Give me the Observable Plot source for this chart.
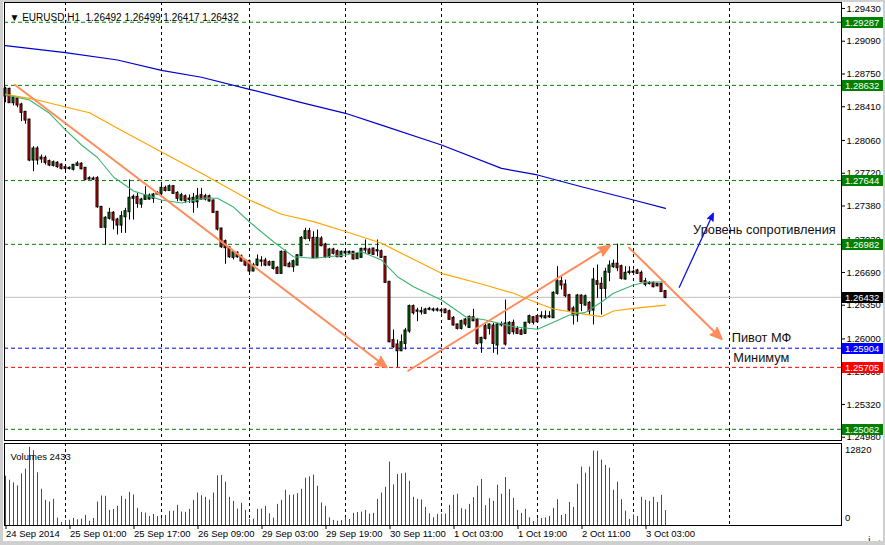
<!DOCTYPE html>
<html><head><meta charset="utf-8">
<script src="https://cdn.jsdelivr.net/npm/d3@7"></script>
<script src="https://cdn.jsdelivr.net/npm/@observablehq/plot@0.6"></script>
<style>
html,body{margin:0;padding:0;background:#fff;}
#chart{position:relative;width:885px;height:545px;overflow:hidden;background:#fff;font-family:"Liberation Sans",Arial,sans-serif;}
#chart svg{position:absolute;left:0;display:block;}
#border{position:absolute;left:0;top:0;width:885px;height:545px;box-sizing:border-box;border-style:solid;border-color:#cfcfcf;border-width:2px 2px 4px 3px;pointer-events:none;}
</style></head><body><div id="chart"></div>
<script>
// ---- data ----
const symbolHeader = "▼ EURUSD,H1\u00a0\u00a01.26492 1.26499 1.26417 1.26432";
const open = [1.28521,1.28591,1.28452,1.28490,1.28428,1.28352,1.28272,1.27857,1.27971,1.27878,
1.27875,1.27840,1.27802,1.27823,1.27805,1.27777,1.27771,1.27761,1.27802,1.27813,
1.27771,1.27663,1.27660,1.27663,1.27366,1.27159,1.27252,1.27304,1.27234,1.27182,
1.27269,1.27321,1.27460,1.27470,1.27400,1.27449,1.27452,1.27460,1.27504,1.27511,
1.27563,1.27541,1.27580,1.27511,1.27442,1.27476,1.27452,1.27418,1.27424,1.27487,
1.27476,1.27476,1.27432,1.27314,1.27141,1.27009,1.26947,1.26847,1.26889,1.26853,
1.26809,1.26802,1.26705,1.26767,1.26809,1.26809,1.26791,1.26733,1.26733,1.26681,
1.26899,1.26775,1.26750,1.26767,1.26864,1.27044,1.27113,1.27044,1.26843,1.27037,
1.26975,1.26853,1.26923,1.26905,1.26853,1.26899,1.26892,1.26899,1.26833,1.26847,
1.26930,1.26923,1.26933,1.26916,1.26905,1.26847,1.26588,1.25982,1.25937,1.25878,
1.25954,1.26082,1.26335,1.26290,1.26283,1.26266,1.26308,1.26300,1.26301,1.26293,
1.26300,1.26283,1.26214,1.26145,1.26110,1.26196,1.26120,1.26220,1.26196,1.25961,
1.26127,1.26110,1.26134,1.25937,1.26148,1.26155,1.26058,1.26162,1.26100,1.26082,
1.26058,1.26173,1.26220,1.26231,1.26231,1.26220,1.26231,1.26220,1.26474,1.26594,
1.26560,1.26449,1.26311,1.26248,1.26445,1.26352,1.26370,1.26300,1.26594,1.26567,
1.26525,1.26692,1.26750,1.26775,1.26750,1.26622,1.26692,1.26692,1.26705,1.26681,
1.26594,1.26577,1.26577,1.26567,1.26567,1.26492];
const high = [1.28612,1.28602,1.28514,1.28514,1.28446,1.28359,1.28280,1.27995,1.27995,1.27909,
1.27899,1.27857,1.27847,1.27840,1.27816,1.27795,1.27785,1.27805,1.27840,1.27829,
1.27777,1.27684,1.27681,1.27684,1.27372,1.27269,1.27356,1.27321,1.27252,1.27321,
1.27356,1.27650,1.27494,1.27511,1.27460,1.27580,1.27504,1.27511,1.27528,1.27598,
1.27587,1.27598,1.27590,1.27528,1.27511,1.27494,1.27494,1.27511,1.27563,1.27563,
1.27501,1.27494,1.27442,1.27321,1.27148,1.27027,1.26957,1.26913,1.26905,1.26871,
1.26819,1.26819,1.26785,1.26871,1.26853,1.26837,1.26809,1.26802,1.26750,1.26913,
1.26923,1.26798,1.26819,1.26871,1.27061,1.27148,1.27148,1.27113,1.27131,1.27061,
1.26993,1.26941,1.26941,1.26923,1.26913,1.26916,1.26913,1.26905,1.26889,1.26941,
1.27027,1.26941,1.26941,1.27027,1.26923,1.26853,1.26594,1.26093,1.25989,1.26041,
1.26110,1.26352,1.26352,1.26318,1.26328,1.26318,1.26328,1.26321,1.26321,1.26318,
1.26311,1.26300,1.26231,1.26155,1.26196,1.26214,1.26238,1.26308,1.26214,1.26017,
1.26162,1.26155,1.26162,1.26162,1.26176,1.26404,1.26179,1.26196,1.26127,1.26103,
1.26173,1.26248,1.26231,1.26241,1.26283,1.26290,1.26283,1.26490,1.26750,1.26646,
1.26611,1.26463,1.26335,1.26463,1.26456,1.26456,1.26387,1.26733,1.26767,1.26636,
1.26733,1.26809,1.26819,1.26985,1.26767,1.26750,1.26750,1.26715,1.26723,1.26705,
1.26629,1.26594,1.26591,1.26577,1.26577,1.26499];
const low = [1.28452,1.28446,1.28418,1.28400,1.28255,1.28228,1.27840,1.27736,1.27805,1.27823,
1.27805,1.27788,1.27785,1.27771,1.27754,1.27746,1.27754,1.27743,1.27788,1.27754,
1.27642,1.27650,1.27647,1.27356,1.27148,1.26975,1.27234,1.27131,1.27079,1.27096,
1.27096,1.27234,1.27234,1.27356,1.27356,1.27442,1.27442,1.27407,1.27494,1.27494,
1.27525,1.27535,1.27504,1.27424,1.27424,1.27407,1.27407,1.27304,1.27356,1.27442,
1.27432,1.27418,1.27304,1.27120,1.26941,1.26775,1.26837,1.26819,1.26837,1.26795,
1.26750,1.26671,1.26698,1.26750,1.26750,1.26750,1.26757,1.26715,1.26671,1.26671,
1.26750,1.26739,1.26692,1.26760,1.26853,1.27027,1.27009,1.26837,1.26837,1.26957,
1.26837,1.26837,1.26871,1.26847,1.26847,1.26871,1.26881,1.26819,1.26827,1.26840,
1.26889,1.26878,1.26871,1.26853,1.26837,1.26577,1.25961,1.25903,1.25705,1.25867,
1.25885,1.26058,1.26248,1.26179,1.26248,1.26259,1.26293,1.26279,1.26279,1.26259,
1.26266,1.26196,1.26134,1.26093,1.26093,1.26127,1.26110,1.26179,1.25937,1.25851,
1.25989,1.26041,1.25851,1.25833,1.26124,1.25926,1.26041,1.26041,1.26048,1.26041,
1.26048,1.26152,1.26145,1.26165,1.26207,1.26207,1.26214,1.26214,1.26456,1.26508,
1.26428,1.26283,1.26145,1.26173,1.26283,1.26342,1.26248,1.26145,1.26422,1.26248,
1.26422,1.26594,1.26733,1.26698,1.26611,1.26611,1.26663,1.26674,1.26671,1.26584,
1.26542,1.26560,1.26531,1.26542,1.26488,1.26417];
const close = [1.28591,1.28452,1.28498,1.28428,1.28352,1.28272,1.27857,1.27971,1.27857,1.27868,
1.27833,1.27805,1.27829,1.27788,1.27771,1.27771,1.27769,1.27802,1.27816,1.27767,
1.27657,1.27660,1.27657,1.27372,1.27159,1.27252,1.27304,1.27234,1.27182,1.27269,
1.27321,1.27460,1.27470,1.27407,1.27442,1.27487,1.27483,1.27494,1.27511,1.27563,
1.27541,1.27580,1.27511,1.27460,1.27487,1.27435,1.27449,1.27460,1.27476,1.27452,
1.27452,1.27432,1.27314,1.27141,1.26957,1.26947,1.26853,1.26895,1.26853,1.26809,
1.26767,1.26705,1.26760,1.26819,1.26807,1.26767,1.26767,1.26795,1.26681,1.26899,
1.26760,1.26750,1.26802,1.26864,1.27044,1.27113,1.27044,1.26843,1.27044,1.26968,
1.26853,1.26923,1.26889,1.26853,1.26899,1.26892,1.26899,1.26830,1.26877,1.26930,
1.26923,1.26889,1.26878,1.26914,1.26847,1.26588,1.25971,1.25919,1.25878,1.25961,
1.26082,1.26335,1.26272,1.26288,1.26281,1.26300,1.26307,1.26301,1.26299,1.26292,
1.26272,1.26204,1.26145,1.26110,1.26179,1.26155,1.26224,1.26189,1.25954,1.26006,
1.26006,1.26145,1.25954,1.26145,1.26146,1.25947,1.26162,1.26075,1.26058,1.26048,
1.26162,1.26231,1.26173,1.26179,1.26235,1.26231,1.26229,1.26474,1.26594,1.26560,
1.26449,1.26300,1.26248,1.26445,1.26370,1.26438,1.26290,1.26611,1.26567,1.26525,
1.26692,1.26757,1.26775,1.26739,1.26629,1.26681,1.26690,1.26691,1.26681,1.26594,
1.26567,1.26575,1.26542,1.26552,1.26492,1.26432];
const volume = [8085,7425,6985,6490,8470,9240,12820,12265,8635,5940,
4125,3850,4290,1210,495,825,870,1155,935,1045,
1650,715,1155,3850,4840,4790,2475,2640,3135,4785,
4290,5445,5005,2805,2145,2035,1485,1815,1485,1155,
1650,2310,2360,3300,2200,2150,2640,4125,5335,4895,
4620,4180,5335,8140,8200,7095,4620,3960,2695,3630,
2475,990,1040,2640,2700,3135,1925,1210,3465,4125,
5775,4950,5000,5225,5940,7755,7975,8250,6435,3685,
3135,1265,825,715,825,1265,990,1980,2145,2200,
2475,1870,1980,4290,5335,6270,10395,6655,8360,8470,
8580,7260,4620,4290,4180,2970,1925,1265,1815,1860,
1880,3300,4950,5115,2750,2585,3465,4565,6435,7535,
3245,4400,3960,6600,5115,7865,5885,4455,2475,1980,
2640,1265,660,1100,1155,1265,1485,2805,4235,1650,
1815,3795,2970,6765,9570,8580,9570,12210,12160,10725,
9845,9405,5775,7095,4235,2365,990,1760,1485,4620,
4125,3960,4620,3795,4950,2433];

const timeLabels = ["24 Sep 2014","25 Sep 01:00","25 Sep 17:00","26 Sep 09:00","29 Sep 03:00","29 Sep 19:00","30 Sep 11:00","1 Oct 03:00","1 Oct 19:00","2 Oct 11:00","3 Oct 03:00"];
const timeLabelBars = [0,16,32,48,64,80,96,112,128,144,160];
const daySeparatorBars = [15,39,61,85,109,133,157,181];
const priceTicks = [1.29430,1.29090,1.28750,1.28410,1.28060,1.27720,1.27380,1.27030,1.26690,1.26350,1.26000,1.25660,1.25320,1.24980];
const levelPrices = [1.29287,1.28632,1.27644,1.26982,1.25904,1.25705,1.25062];
const levelColors = ["#008000","#008000","#008000","#008000","#0000ff","#ff0000","#008000"];
const currentPrice = 1.26432;
const volumeTicks = [12820, 0];

// moving averages: [bar, price]
const maSlow = [[0,1.29044],[15,1.28971],[28,1.28895],[39,1.28788],[49,1.28716],[61,1.28591],[74,1.28452],[85,1.28342],[94,1.28220],[109,1.28013],[124,1.27771],[133,1.27702],[144,1.27580],[157,1.27442],[165,1.27356]];
const maMid = [[0,1.28539],[7,1.28490],[15,1.28407],[21,1.28348],[28,1.28186],[39,1.27940],[49,1.27719],[61,1.27442],[69,1.27294],[77,1.27217],[85,1.27115],[94,1.26993],[104,1.26785],[109,1.26681],[119,1.26570],[127,1.26474],[133,1.26373],[137,1.26311],[145,1.26256],[149,1.26231],[152,1.26290],[157,1.26318],[165,1.26352]];
const maFast = [[0,1.28532],[6,1.28480],[11,1.28342],[15,1.28169],[19,1.28013],[23,1.27883],[27,1.27681],[32,1.27535],[39,1.27442],[44,1.27411],[50,1.27463],[53,1.27460],[57,1.27369],[61,1.27214],[67,1.27009],[72,1.26853],[77,1.26837],[85,1.26871],[89,1.26905],[94,1.26819],[98,1.26646],[102,1.26542],[109,1.26404],[112,1.26318],[115,1.26231],[120,1.26196],[127,1.26127],[133,1.26100],[137,1.26173],[141,1.26248],[145,1.26276],[149,1.26383],[152,1.26474],[157,1.26560],[160,1.26588],[165,1.26594]];

// drawn trend arrows: [barStart, priceStart, barEnd, priceEnd]
const trendArrows = [[2.4,1.28636,95.3,1.25706],[100.7,1.25670,151.1,1.26968],[155.9,1.26947,179.05,1.25999]];
const blueArrows = [[168.45,1.26536,176.95,1.27304]];
const noteTexts = ["Уровень сопротивления","Пивот МФ","Минимум"];
const noteBars = [171.9,181.55,181.95];
const notePrices = [1.27131,1.26015,1.25805];

// ---- build ----
const xDomain = [-0.25, 209];
const candles = open.map((o,i)=>({i, o, h: high[i], l: low[i], c: close[i], up: close[i] >= o}));
const levels = levelPrices.map((p,k)=>({price: p, color: levelColors[k]}));
const boxes = [...levels, {price: currentPrice, color: "#000000"}];
const notes = noteTexts.map((t,k)=>({t, x: noteBars[k], y: notePrices[k]}));
const vols = volume.map((v,i)=>({i, v, color: i === 0 || v > volume[i-1] ? "#008000" : "#ff0000"}));
const font = "'Liberation Sans', Arial, sans-serif";

function priceBoxes(data) {
  return Plot.dot(data, {y: "price", render(index, scales, values, dims) {
    const g = d3.create("svg:g");
    const x0 = dims.width - dims.marginRight + 1;
    for (const i of index) {
      const yy = Math.round(values.y[i]);
      g.append("rect").attr("x", x0).attr("y", yy - 5).attr("width", 41).attr("height", 11).attr("fill", data[i].color);
      g.append("text").attr("x", x0 + 3).attr("y", yy + 0.5).attr("dy", "0.36em").attr("fill", "white")
        .attr("text-anchor", "start").attr("font-size", 9.5).attr("font-family", font).text(data[i].price.toFixed(5));
    }
    return g.node();
  }});
}
function filledArrow(data, color, width) {
  return Plot.arrow(data, {x1: d=>d[0], y1: d=>d[1], x2: d=>d[2], y2: d=>d[3], stroke: color, strokeWidth: width,
    headLength: 9, headAngle: 45,
    render(index, scales, values, dims, ctx, next) {
      const g = next(index, scales, values, dims, ctx);
      d3.select(g).attr("fill", color);
      return g;
    }});
}

const main = Plot.plot({
  width: 885, height: 441,
  marginLeft: 4, marginRight: 44, marginTop: 2, marginBottom: 1,
  x: {domain: xDomain, axis: null},
  y: {domain: [1.24946, 1.29492], axis: null},
  style: {fontFamily: font, fontSize: "9.5px", background: "transparent", color: "black", overflow: "visible"},
  marks: [
    Plot.ruleX(daySeparatorBars, {stroke: "black", strokeDasharray: "3,3"}),
    Plot.ruleY(levels, {y: "price", stroke: "color", strokeDasharray: "4,3"}),
    Plot.ruleY([currentPrice], {stroke: "#c0c0c0"}),
    Plot.ruleX(candles, {x: "i", y1: "l", y2: "h", stroke: "black"}),
    Plot.rect(candles, {x1: "i", x2: "i", y1: d=>Math.min(d.o,d.c), y2: d=>Math.max(d.o,d.c),
      insetLeft: -1, insetRight: -1, insetTop: -0.5, insetBottom: -0.5,
      fill: d=>d.up ? "#008000" : "#ff0000", stroke: "black"}),
    Plot.line(maSlow, {stroke: "#0000cd", strokeWidth: 1.2}),
    Plot.line(maMid, {stroke: "#ffa500", strokeWidth: 1.2}),
    Plot.line(maFast, {stroke: "#3cb371", strokeWidth: 1.1}),
    filledArrow(trendArrows, "#ff8c5a", 2),
    filledArrow(blueArrows, "#1010ee", 1.3),
    Plot.text(notes, {x: "x", y: "y", text: "t", textAnchor: "start", fontSize: 12.8, fill: "#111"}),
    Plot.axisY(priceTicks, {anchor: "right", tickSize: 3, tickPadding: 2, tickFormat: d=>d.toFixed(5), fontSize: 9.5}),
    priceBoxes(boxes),
    Plot.frame({stroke: "black"}),
    Plot.text([symbolHeader], {frameAnchor: "top-left", dx: 5, dy: 11, textAnchor: "start", fontSize: 10, fill: "black"})
  ]
});

const vol = Plot.plot({
  width: 885, height: 104,
  marginLeft: 4, marginRight: 44, marginTop: 2, marginBottom: 20,
  x: {domain: xDomain, axis: null},
  y: {domain: [0, 13443], axis: null},
  style: {fontFamily: font, fontSize: "9.5px", background: "transparent", color: "black", overflow: "visible"},
  marks: [
    Plot.ruleX(daySeparatorBars, {stroke: "black", strokeDasharray: "3,3"}),
    Plot.ruleX(vols, {x: "i", y1: 0, y2: "v", stroke: "color"}),
    Plot.axisX(timeLabelBars, {anchor: "bottom", tickSize: 4, tickPadding: 1, textAnchor: "start", dx: 0.5,
      tickFormat: (d)=>timeLabels[timeLabelBars.indexOf(d)], fontSize: 9.5}),
    Plot.frame({stroke: "black"}),
    Plot.text([`Volumes ${volume[volume.length-1]}`], {frameAnchor: "top-left", dx: 6, dy: 9.5, textAnchor: "start", fontSize: 9.5, fill: "black"}),
    Plot.text([volumeTicks[0]], {y: d=>d, text: d=>String(d), frameAnchor: "right", dx: 3.5, dy: 3, textAnchor: "start", fontSize: 9.5, fill: "black"}),
    Plot.text([volumeTicks[1]], {y: d=>d, text: d=>String(d), frameAnchor: "right", dx: 3.5, dy: -7.5, textAnchor: "start", fontSize: 9.5, fill: "black"})
  ]
});

const chart = document.getElementById("chart");
main.style.top = "0px";
vol.style.top = "441px";
chart.appendChild(main);
chart.appendChild(vol);
const border = document.createElement("div");
border.id = "border";
chart.appendChild(border);
</script></body></html>
